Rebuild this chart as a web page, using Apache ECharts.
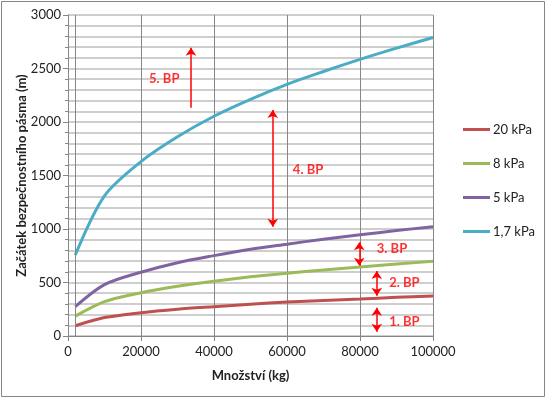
<!DOCTYPE html>
<html>
<head>
<meta charset="utf-8">
<script src="https://cdn.jsdelivr.net/npm/echarts@6/dist/echarts.min.js"></script>
<style>
  html, body { margin: 0; padding: 0; background: #fff; }
  #main { width: 547px; height: 399px; }
</style>
</head>
<body>
<div id="main"></div>
<script>
// values
const mass = [2000, 10000, 20000, 30000, 40000, 50000, 60000, 70000, 80000, 90000, 100000];
const kpa20 = [96, 172, 218, 250, 274, 297, 317, 332, 346, 361, 374];
const kpa8 = [186, 322, 405, 465, 512, 553, 587, 617, 644, 672, 698];
const kpa5 = [274, 480, 596, 685, 751, 810, 858, 905, 946, 985, 1022];
const kpa17 = [757, 1310, 1630, 1862, 2054, 2212, 2352, 2472, 2585, 2690, 2790];

const names = ['20 kPa', '8 kPa', '5 kPa', '1,7 kPa'];
const colors = ['#C0504D', '#9BBB59', '#8064A2', '#4BACC6'];

// zone labels [x, y, text] and arrows [x, yFrom, yTo, twoHeads]
const zoneLabels = [
  [22200, 2400, '5. BP'],
  [61600, 1550, '4. BP'],
  [84600, 813, '3. BP'],
  [88000, 498, '2. BP'],
  [88000, 128, '1. BP']
];
const zoneArrows = [
  [33700, 2134, 2694, false],
  [56100, 1021, 2112, true],
  [79800, 657, 876, true],
  [84600, 377, 607, true],
  [84600, 40, 265, true]
];

const font = 'Lato, "Open Sans", sans-serif';

function pairs(ys) {
  return mass.map((x, i) => [x, ys[i]]);
}

var myChart = echarts.init(document.getElementById('main'));

var series = [kpa20, kpa8, kpa5, kpa17].map((ys, i) => ({
  name: names[i],
  type: 'line',
  data: pairs(ys),
  smooth: 0.3,
  showSymbol: false,
  lineStyle: { color: colors[i], width: 3 },
  itemStyle: { color: colors[i] }
}));

series.push({
  name: 'annot',
  type: 'scatter',
  symbolSize: 0,
  data: zoneLabels,
  label: {
    show: true,
    position: 'right',
    distance: 0,
    formatter: p => p.value[2],
    color: '#FF0000',
    fontWeight: 'bold',
    fontSize: 13,
    fontFamily: font
  },
  markLine: {
    silent: true,
    symbolSize: 8,
    label: { show: false },
    lineStyle: { color: '#FF0000', width: 1.5, type: 'solid' },
    data: zoneArrows.map(a => [
      { coord: [a[0], a[1]], symbol: a[3] ? 'arrow' : 'none' },
      { coord: [a[0], a[2]], symbol: 'arrow' }
    ]).concat([[
      { coord: [2000, 0], symbol: 'none', lineStyle: { color: '#868686', width: 1 } },
      { coord: [2000, 3000], symbol: 'none' }
    ]])
  }
});

var option = {
  animation: false,
  textStyle: { fontFamily: font },
  graphic: [{
    type: 'rect',
    shape: { x: 1.5, y: 1.5, width: 543, height: 395 },
    style: { fill: 'none', stroke: '#868686', lineWidth: 1 }
  }],
  grid: { left: 68, right: 114, top: 15, bottom: 63 },
  legend: {
    data: names,
    orient: 'vertical',
    left: 458,
    top: 118,
    itemWidth: 27,
    itemHeight: 3,
    itemGap: 21,
    icon: 'rect',
    textStyle: { fontSize: 13, color: '#222', fontFamily: font, padding: [0, 0, 0, -2] }
  },
  xAxis: {
    type: 'value',
    min: 0,
    max: 100000,
    interval: 20000,
    name: 'Množství (kg)',
    nameLocation: 'middle',
    nameGap: 33,
    nameTextStyle: { fontWeight: 'bold', fontSize: 13, color: '#222', fontFamily: font },
    axisLine: { lineStyle: { color: '#868686' } },
    axisTick: { show: true, length: 5, lineStyle: { color: '#868686' } },
    axisLabel: { fontSize: 13, color: '#222', margin: 9, fontFamily: font, formatter: v => String(v) },
    splitLine: { show: true, lineStyle: { color: '#868686', width: 1 } }
  },
  yAxis: {
    type: 'value',
    min: 0,
    max: 3000,
    interval: 500,
    name: 'Začátek bezpečnostního pásma (m)',
    nameLocation: 'middle',
    nameGap: 40,
    nameMoveOverlap: false,
    nameTextStyle: { fontWeight: 'bold', fontSize: 13, color: '#222', fontFamily: font },
    axisLine: { show: true, lineStyle: { color: '#868686' } },
    axisTick: { show: true, length: 5, lineStyle: { color: '#868686' } },
    minorTick: { show: true, splitNumber: 5, length: 3, lineStyle: { color: '#868686' } },
    axisLabel: { fontSize: 13, color: '#222', margin: 7, fontFamily: font, formatter: v => String(v) },
    splitLine: { show: true, lineStyle: { color: '#BEBEBE', width: 1.5 } },
    minorSplitLine: { show: true, lineStyle: { color: '#BEBEBE', width: 1.5 } }
  },
  series: series
};

myChart.setOption(option);
</script>
</body>
</html>
